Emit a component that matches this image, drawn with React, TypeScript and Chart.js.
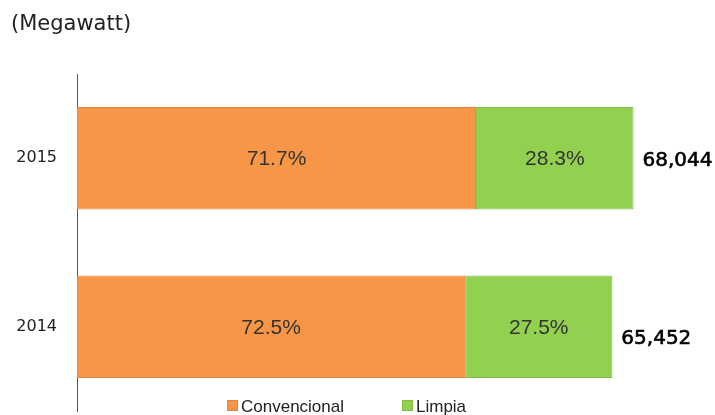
import { useEffect, useRef } from "react";
import { Chart, registerables } from "chart.js";

Chart.register(...registerables);

const categories = ["2015", "2014"];
const totals = [68044, 65452];
const totalLabels = ["68,044", "65,452"];
const pctConvencional = [71.7, 72.5];
const pctLimpia = [28.3, 27.5];
const seriesNames = ["Convencional", "Limpia"];
const unitTitle = "(Megawatt)";

const valuesConvencional = totals.map((t, i) => (t * pctConvencional[i]) / 100);
const valuesLimpia = totals.map((t, i) => (t * pctLimpia[i]) / 100);
const pctLabels = [pctConvencional, pctLimpia];

const totalDy = [3, 12];

const overlay = {
  id: "overlay",
  afterDraw(chart: any) {
    const ctx = chart.ctx;
    ctx.save();
    // title
    ctx.fillStyle = "#222";
    ctx.font = "21px 'DejaVu Sans'";
    ctx.textAlign = "left";
    ctx.textBaseline = "alphabetic";
    ctx.fillText(unitTitle, 11, 30);

    // percent labels
    ctx.font = "21px 'Liberation Sans'";
    ctx.fillStyle = "#333";
    ctx.textAlign = "center";
    ctx.textBaseline = "middle";
    chart.data.datasets.forEach((ds: any, di: number) => {
      const meta = chart.getDatasetMeta(di);
      meta.data.forEach((bar: any, i: number) => {
        const cx = (bar.x + bar.base) / 2;
        ctx.fillText(pctLabels[di][i].toFixed(1) + "%", cx, bar.y + 1);
      });
    });

    // totals
    const last = chart.getDatasetMeta(chart.data.datasets.length - 1);
    ctx.font = "20px 'DejaVu Sans'";
    ctx.fillStyle = "#000";
    ctx.strokeStyle = "#000";
    ctx.lineWidth = 0.6;
    ctx.textAlign = "left";
    last.data.forEach((bar: any, i: number) => {
      ctx.fillText(totalLabels[i], bar.x + 9, bar.y + totalDy[i]);
      ctx.strokeText(totalLabels[i], bar.x + 9, bar.y + totalDy[i]);
    });

    // legend
    const legendX = [227, 402];
    ctx.font = "17px 'Liberation Sans'";
    ctx.textBaseline = "alphabetic";
    chart.data.datasets.forEach((ds: any, di: number) => {
      const x = legendX[di];
      ctx.fillStyle = ds.backgroundColor;
      ctx.fillRect(x, 400, 11, 11);
      ctx.strokeStyle = ds.borderColor;
      ctx.lineWidth = 1;
      ctx.strokeRect(x + 0.5, 400.5, 10, 10);
      ctx.fillStyle = "#222";
      ctx.fillText(ds.label, x + 14, 412);
    });
    ctx.restore();
  },
};

export default function App() {
  const ref = useRef<HTMLCanvasElement | null>(null);
  useEffect(() => {
    document.body.style.margin = "0";
    const chart = new Chart(ref.current as HTMLCanvasElement, {
      type: "bar",
      data: {
        labels: categories,
        datasets: [
          {
            label: seriesNames[0],
            data: valuesConvencional,
            backgroundColor: "#F79646",
            borderColor: "#E5853A",
            borderWidth: 1,
            borderSkipped: false,
            barPercentage: 0.607,
            categoryPercentage: 1,
          },
          {
            label: seriesNames[1],
            data: valuesLimpia,
            backgroundColor: "#92D050",
            borderColor: "#80BF44",
            borderWidth: 1,
            borderSkipped: false,
            barPercentage: 0.607,
            categoryPercentage: 1,
          },
        ],
      },
      options: {
        indexAxis: "y",
        responsive: false,
        animation: false,
        layout: { padding: { top: 74, bottom: 4, left: 0, right: 0 } },
        plugins: {
          legend: { display: false },
          tooltip: { enabled: false },
          title: { display: false },
        },
        scales: {
          x: {
            stacked: true,
            display: false,
            min: 0,
            max: 78000,
          },
          y: {
            stacked: true,
            grid: { display: false, drawTicks: false },
            border: { display: true, color: "#555", width: 1 },
            ticks: {
              color: "#222",
              font: { family: "'DejaVu Sans'", size: 16 },
              padding: 20,
            },
            afterFit(scale: any) {
              scale.width = 77;
              scale.paddingTop = 0;
              scale.paddingBottom = 0;
            },
          },
        },
      },
      plugins: [overlay],
    });
    return () => chart.destroy();
  }, []);
  return <canvas ref={ref} width={715} height={415} style={{ display: "block" }} />;
}
